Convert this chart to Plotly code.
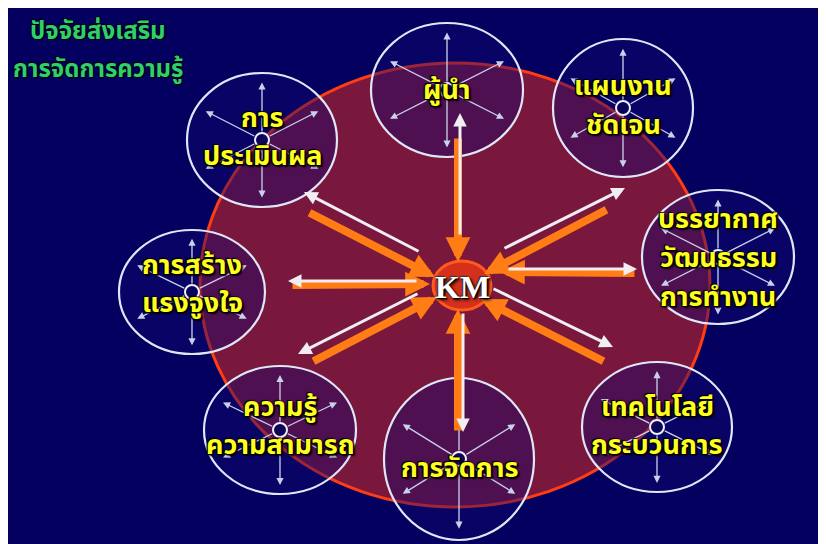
import plotly.graph_objects as go

W, H = 826, 544
OFF = 8  # page body margin: data coordinates equal page pixels

# ---- diagram content ----
title_lines = ["ปัจจัยส่งเสริม", "การจัดการความรู้"]
title_y = [32, 70]
center_label = "KM"

node_lines = [
    ["ผู้นำ"],
    ["แผนงาน", "ชัดเจน"],
    ["บรรยากาศ", "วัฒนธรรม", "การทำงาน"],
    ["เทคโนโลยี", "กระบวนการ"],
    ["การจัดการ"],
    ["ความรู้", "ความสามารถ"],
    ["การสร้าง", "แรงจูงใจ"],
    ["การ", "ประเมินผล"],
]
node_cx = [447, 623, 718, 657, 459, 280, 192, 262]
node_cy = [90, 108, 257, 427, 459, 430, 292, 140]
node_rx = [76, 70, 76, 75, 75, 76, 73, 75]
node_ry = [67, 69, 67, 65, 81, 64, 62, 67]
label_y = [
    [90],
    [86, 125],
    [219, 258, 297],
    [407, 445],
    [468],
    [407, 445],
    [265, 303],
    [118, 156],
]

# inward orange arrows: (tail_x, tail_y, head_x, head_y)
orange_arrows = [
    (458, 137, 458, 262),
    (458, 432, 458, 309),
    (308, 212, 435, 277),
    (608, 209, 484, 274),
    (312, 362, 437, 297),
    (605, 362, 481, 299),
    (291, 285, 430, 284),
    (636, 273, 500, 272),
]
# outward white arrows: (tail_x, tail_y, head_x, head_y)
white_arrows = [
    (460, 236, 460, 113),
    (463, 312, 463, 432),
    (420, 252, 304, 192),
    (503, 249, 625, 188),
    (419, 293, 298, 354),
    (492, 288, 613, 347),
    (418, 281, 288, 281),
    (507, 269, 637, 269),
]

BG = "#03005f"
fig = go.Figure()

shapes = []
shapes.append(dict(type="rect", xref="x", yref="y", x0=0, y0=0, x1=900, y1=600,
                   line=dict(width=0), fillcolor=BG, layer="below"))
shapes.append(dict(type="circle", xref="x", yref="y", x0=200, y0=63, x1=710, y1=507,
                   line=dict(color="#ff3c14", width=3), fillcolor="rgba(168,32,48,0.72)",
                   layer="below"))
for cx, cy, rx, ry in zip(node_cx, node_cy, node_rx, node_ry):
    shapes.append(dict(type="circle", xref="x", yref="y",
                       x0=cx - rx, x1=cx + rx, y0=cy - ry, y1=cy + ry,
                       line=dict(color="#dfe6f6", width=2.2),
                       fillcolor="rgba(20,8,110,0.42)", layer="above"))
shapes.append(dict(type="circle", xref="x", yref="y", x0=433, y0=261, x1=491, y1=310,
                   line=dict(color="#ff5a1e", width=3), fillcolor="#d4301c", layer="above"))

annotations = []
for cx, cy, rx, ry in zip(node_cx, node_cy, node_rx, node_ry):
    tips = [(0, -0.86), (0, 0.86), (-0.75, -0.43), (0.75, -0.43), (-0.75, 0.43), (0.75, 0.43)]
    for fx, fy in tips:
        annotations.append(dict(x=cx + fx * rx, y=cy + fy * ry, ax=cx, ay=cy,
                                xref="x", yref="y", axref="x", ayref="y", text="",
                                showarrow=True, arrowhead=2, arrowsize=1.1, arrowwidth=1.3,
                                arrowcolor="#c9d1ea", standoff=0, startstandoff=7))
for tx, ty, hx, hy in orange_arrows:
    annotations.append(dict(x=hx, y=hy, ax=tx, ay=ty, xref="x", yref="y", axref="x", ayref="y",
                            text="", showarrow=True, arrowhead=2, arrowsize=0.62, arrowwidth=8,
                            arrowcolor="#ff7d14", standoff=0))
for tx, ty, hx, hy in white_arrows:
    annotations.append(dict(x=hx, y=hy, ax=tx, ay=ty, xref="x", yref="y", axref="x", ayref="y",
                            text="", showarrow=True, arrowhead=2, arrowsize=0.9, arrowwidth=3,
                            arrowcolor="#f0eef2", standoff=0))

for cx, cy in zip(node_cx, node_cy):
    shapes.append(dict(type="circle", xref="x", yref="y", x0=cx - 7, x1=cx + 7, y0=cy - 7, y1=cy + 7,
                       line=dict(color="#eef0fa", width=2), fillcolor="rgba(10,5,90,0.9)", layer="above"))

thai_font = "Noto Sans Thai, Tahoma, DejaVu Sans, sans-serif"
label_shadow = "1px 1px 1px #000, -1px -1px 1px #000, 2px 2px 2px #000, -1px 1px 1px #000"
for lines, cx, ys in zip(node_lines, node_cx, label_y):
    for t, y in zip(lines, ys):
        annotations.append(dict(x=cx, y=y, xref="x", yref="y", text=t, showarrow=False,
                                font=dict(family=thai_font, size=27, color="#ffff1e", weight="bold",
                                          shadow=label_shadow)))
annotations.append(dict(x=462, y=287, xref="x", yref="y", text=center_label, showarrow=False,
                        font=dict(family="Liberation Serif, Times New Roman, serif", size=32,
                                  color="#ffffff", weight="bold",
                                  shadow="1px 1px 1px #000, -1px -1px 1px #333, 2px 2px 3px #000")))
for t, y in zip(title_lines, title_y):
    annotations.append(dict(x=98, y=y, xref="x", yref="y", text=t, showarrow=False,
                            font=dict(family=thai_font, size=24, color="#2fd06a", weight="bold",
                                      shadow="1px 1px 1px #000, -1px -1px 1px #000")))

fig.update_layout(
    width=W, height=H, margin=dict(l=0, r=0, t=0, b=0),
    paper_bgcolor="white", plot_bgcolor=BG,
    xaxis=dict(range=[OFF, OFF + W], visible=False, fixedrange=True),
    yaxis=dict(range=[OFF + H, OFF], visible=False, fixedrange=True),
    shapes=shapes, annotations=annotations, showlegend=False,
)
fig.write_html("out.html")
